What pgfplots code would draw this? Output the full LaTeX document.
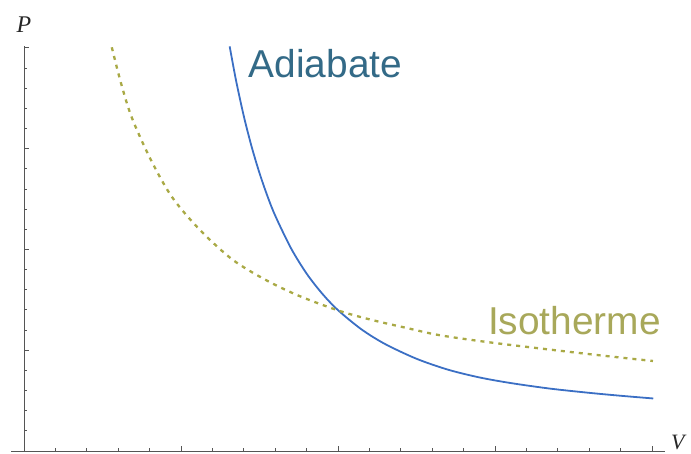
\documentclass[border=0pt]{standalone}
\usepackage{pgfplots}
\pgfplotsset{compat=1.18}
\usepackage{fontspec}
\setmainfont{Liberation Serif}
\newfontfamily\labelfont{Liberation Sans}
\definecolor{adia}{HTML}{3B6FC4}
\definecolor{iso}{HTML}{A9A945}
\definecolor{adiatext}{HTML}{336A87}
\definecolor{isotext}{HTML}{A8A85A}
\definecolor{axgray}{HTML}{555555}
\begin{document}
\begin{tikzpicture}[x=1bp,y=1bp]
\useasboundingbox (0,0) rectangle (691,454);
\begin{axis}[
  at={(11.44bp,3bp)}, anchor=south west,
  x=157bp, y=100.8bp,
  xmin=-0.08, xmax=4.08, ymin=0, ymax=4.02,
  axis lines=middle,
  axis line style={-, draw=axgray, line width=0.9bp},
  xtick={0,1,2,3,4}, ytick={0,1,2,3,4},
  minor x tick num=4, minor y tick num=4,
  xticklabels={}, yticklabels={},
  tick align=inside,
  major tick length=5bp, minor tick length=3bp,
  tick style={axgray, line width=0.8bp},
  clip=false,
]
\addplot[adia, line width=1.8bp, smooth] coordinates {
(1.31,4.014) (1.35,3.680) (1.40,3.322) (1.45,3.018) (1.50,2.757)
(1.55,2.531) (1.60,2.335) (1.70,2.013) (1.80,1.760) (1.90,1.560)
(2.0,1.397) (2.15,1.206) (2.3,1.061) (2.5,0.915) (2.7,0.807)
(2.9,0.730) (3.1,0.674) (3.35,0.619) (3.6,0.577) (3.8,0.548) (4.008,0.521)
};
\addplot[iso, line width=2.3bp, dash pattern=on 4bp off 5bp, smooth] coordinates {
(0.559,4.005) (0.618,3.648) (0.686,3.31) (0.803,2.904) (0.941,2.523)
(1.121,2.192) (1.331,1.895) (1.548,1.690) (1.758,1.535) (2.013,1.388)
(2.223,1.297) (2.439,1.220) (2.650,1.148) (3.0,1.071) (3.605,0.960)
(4.006,0.893)
};
\node[font=\fontsize{24}{24}\selectfont\itshape, text=black!85] at (axis cs:0,4.226) {P};
\node[font=\fontsize{22}{22}\selectfont\itshape, text=black!85, anchor=west, inner sep=0pt] at (axis cs:4.120,0.085) {V};
\node[font=\labelfont\fontsize{39}{39}\selectfont, text=adiatext, anchor=base west, inner sep=0pt] at (axis cs:1.430,3.703) {Adiabate};
\node[font=\labelfont\fontsize{39}{39}\selectfont, text=isotext, anchor=base west, inner sep=0pt] at (axis cs:2.955,1.151) {Isotherme};
\end{axis}
\end{tikzpicture}
\end{document}
